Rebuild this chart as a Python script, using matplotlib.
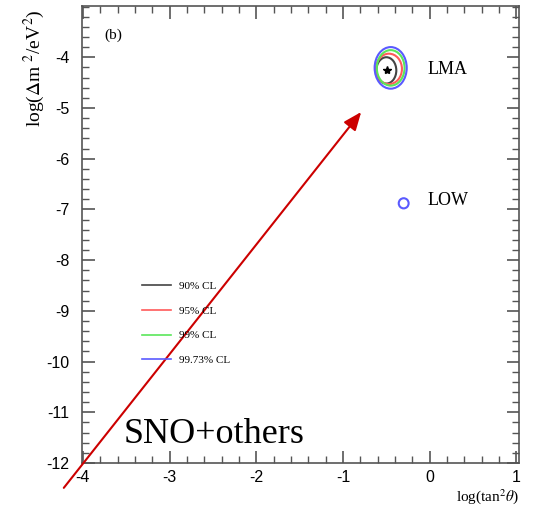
import matplotlib
matplotlib.use("Agg")
import matplotlib.pyplot as plt
from matplotlib.patches import Ellipse
from matplotlib.lines import Line2D
from matplotlib.ticker import MultipleLocator

plt.rcParams["mathtext.fontset"] = "stix"
plt.rcParams["axes.unicode_minus"] = False

# confidence levels and colours
cl_labels = ["90% CL", "95% CL", "99% CL", "99.73% CL"]
cl_colors = ["#444444", "#ff5a5a", "#5ae65a", "#5a5aff"]

# LMA region: centre and half sizes per CL (log tan^2, log dm^2)
lma_cx = [-0.50, -0.47, -0.45, -0.45]
lma_cy = [-4.26, -4.23, -4.21, -4.21]
lma_hw = [0.115, 0.15, 0.16, 0.185]
lma_hh = [0.26, 0.30, 0.35, 0.41]
best_fit = (-0.495, -4.26)

# LOW region (only 99.73% CL)
low_cx, low_cy, low_hw, low_hh = -0.30, -6.88, 0.057, 0.10

# red arrow (data coords)
arrow_start = (-4.22, -12.49)
arrow_end = (-0.79, -5.08)

fig = plt.figure(figsize=(5.33, 5.05), dpi=100)
ax = fig.add_axes([82 / 533, 42 / 505, 437 / 533, 457 / 505])

for cx, cy, hw, hh, c in zip(lma_cx, lma_cy, lma_hw, lma_hh, cl_colors):
    ax.add_patch(Ellipse((cx, cy), 2 * hw, 2 * hh, fill=False, edgecolor=c, lw=1.5))
ax.add_patch(Ellipse((low_cx, low_cy), 2 * low_hw, 2 * low_hh, fill=False,
                     edgecolor=cl_colors[3], lw=1.5))
ax.plot(*best_fit, marker="*", color="black", ms=6, ls="none")

ax.text(-0.02, -4.25, "LMA", family="Liberation Serif", fontsize=13, va="center")
ax.text(-0.02, -6.83, "LOW", family="Liberation Serif", fontsize=13, va="center")
ax.text(-3.75, -3.57, "(b)", family="Liberation Serif", fontsize=11, va="center")
ax.text(-3.53, -11.43, "SNO+others", family="Liberation Serif", fontsize=26, va="center")

# legend
handles = [Line2D([], [], color=c, lw=1.2) for c in cl_colors]
ax.legend(handles, cl_labels, loc="upper left", bbox_to_anchor=(0.115, 0.42),
          frameon=False, prop={"family": "Liberation Serif", "size": 8},
          handlelength=2.6, labelspacing=1.35, handletextpad=0.7)

ax.set_xlim(-4.01, 1.03)
ax.set_ylim(-12, -2.99)
ax.xaxis.set_major_locator(MultipleLocator(1))
ax.xaxis.set_minor_locator(MultipleLocator(0.2))
ax.set_yticks([-12, -11, -10, -9, -8, -7, -6, -5, -4])
ax.yaxis.set_minor_locator(MultipleLocator(0.2))

for s in ax.spines.values():
    s.set_color("#555555")
    s.set_linewidth(1.2)
ax.tick_params(which="both", direction="in", top=True, right=True, color="#555555")
ax.tick_params(which="major", length=9, width=1.2, labelsize=11.5)
ax.tick_params(which="minor", length=5, width=1.0)
ax.tick_params(axis="x", pad=5)
ax.tick_params(axis="y", pad=9)
for lab in ax.get_xticklabels() + ax.get_yticklabels():
    lab.set_family("Liberation Sans")

ax.set_ylabel(r"log($\Delta$m $^2$/eV$^2$)", loc="top", family="Liberation Serif", fontsize=14)
ax.yaxis.set_label_coords(-0.08, 0.993)
ax.set_xlabel(r"log(tan$^2\theta$)", loc="right", family="Liberation Serif", fontsize=11)
ax.xaxis.set_label_coords(1.0, -0.052)

ax.annotate("", xy=arrow_end, xytext=arrow_start, annotation_clip=False,
            arrowprops=dict(arrowstyle="-|>,head_length=1.1,head_width=0.45",
                            color="#cc0000", lw=1.5, shrinkA=0, shrinkB=0))

fig.savefig("out.png", dpi=100)
